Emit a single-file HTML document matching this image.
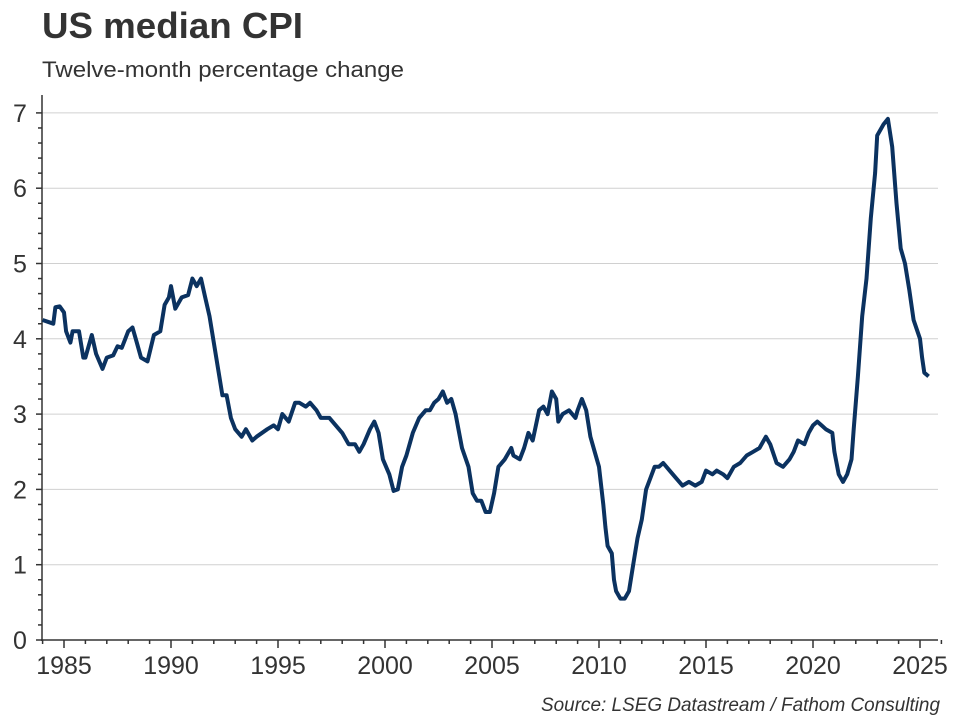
<!DOCTYPE html>
<html><head><style>
html,body{margin:0;padding:0;background:#fff;width:960px;height:720px;overflow:hidden}
</style></head><body>
<svg width="960" height="720" xmlns="http://www.w3.org/2000/svg" font-family="Liberation Sans, Arial, sans-serif">
<text x="42" y="38" font-size="36" font-weight="bold" fill="#333" textLength="261" lengthAdjust="spacingAndGlyphs">US median CPI</text>
<text x="42" y="77" font-size="22" fill="#333" textLength="362" lengthAdjust="spacingAndGlyphs">Twelve-month percentage change</text>
<g id="grid" stroke="#d0d0d0" stroke-width="1"></g>
<g id="ax" stroke="#333" stroke-width="1.5"></g>
<g id="lbl" font-size="25" fill="#333"></g>
<polyline id="ln" fill="none" stroke="#0b3260" stroke-width="4" stroke-linejoin="round"/>
<text x="940" y="711" font-size="19" font-style="italic" fill="#333" text-anchor="end" textLength="399" lengthAdjust="spacingAndGlyphs">Source: LSEG Datastream / Fathom Consulting</text>
</svg>
<script>
const X=y=>64+(y-1985)*21.4, Y=v=>640-v*75.3;
const ns="http://www.w3.org/2000/svg";
function el(p,t,a,txt){const e=document.createElementNS(ns,t);for(const k in a)e.setAttribute(k,a[k]);if(txt)e.textContent=txt;p.appendChild(e);return e;}
const g=document.getElementById('grid'),ax=document.getElementById('ax'),lb=document.getElementById('lbl');
for(let v=1;v<=7;v++)el(g,'line',{x1:42,x2:938,y1:Y(v),y2:Y(v)});
el(ax,'line',{x1:42,x2:42,y1:95,y2:641});
el(ax,'line',{x1:41,x2:938,y1:640,y2:640});
for(let v=0;v<=7.01;v+=0.2){const m=Math.abs(v-Math.round(v))<0.01;el(ax,'line',{x1:m?36:38,x2:42,y1:Y(v),y2:Y(v)});}
for(let v=0;v<=7;v++)el(lb,'text',{x:20,y:Y(v)+9,'text-anchor':'middle'},String(v));
for(let yr=1984;yr<=2026;yr++){const m=yr%5==0;el(ax,'line',{x1:X(yr),x2:X(yr),y1:640,y2:m?648:644});}
for(let yr=1985;yr<=2025;yr+=5)el(lb,'text',{x:X(yr),y:674,'text-anchor':'middle'},String(yr));
const d=[1984.0,4.25,1984.3,4.22,1984.5,4.2,1984.6,4.42,1984.8,4.43,1985.0,4.35,1985.1,4.1,1985.3,3.95,1985.4,4.1,1985.7,4.1,1985.9,3.75,1986.0,3.75,1986.3,4.05,1986.5,3.8,1986.8,3.6,1987.0,3.75,1987.3,3.78,1987.5,3.9,1987.7,3.88,1988.0,4.1,1988.2,4.15,1988.4,3.95,1988.6,3.75,1988.9,3.7,1989.2,4.05,1989.5,4.1,1989.7,4.45,1989.9,4.55,1990.0,4.7,1990.2,4.4,1990.5,4.55,1990.8,4.58,1991.0,4.8,1991.2,4.7,1991.4,4.8,1991.6,4.55,1991.8,4.3,1992.0,3.95,1992.2,3.6,1992.4,3.25,1992.6,3.25,1992.8,2.95,1993.0,2.8,1993.3,2.7,1993.5,2.8,1993.8,2.65,1994.0,2.7,1994.5,2.8,1994.8,2.85,1995.0,2.8,1995.2,3.0,1995.5,2.9,1995.8,3.15,1996.0,3.15,1996.3,3.1,1996.5,3.15,1996.8,3.05,1997.0,2.95,1997.4,2.95,1997.7,2.85,1998.0,2.75,1998.3,2.6,1998.6,2.6,1998.8,2.5,1999.0,2.6,1999.3,2.8,1999.5,2.9,1999.7,2.75,1999.9,2.4,2000.2,2.2,2000.4,1.98,2000.6,2.0,2000.8,2.3,2001.0,2.45,2001.3,2.75,2001.6,2.95,2001.9,3.05,2002.1,3.05,2002.3,3.15,2002.5,3.2,2002.7,3.3,2002.9,3.15,2003.1,3.2,2003.3,3.0,2003.6,2.55,2003.9,2.3,2004.1,1.95,2004.3,1.85,2004.5,1.85,2004.7,1.7,2004.9,1.7,2005.1,1.95,2005.3,2.3,2005.6,2.4,2005.9,2.55,2006.0,2.45,2006.3,2.4,2006.5,2.55,2006.7,2.75,2006.9,2.65,2007.2,3.05,2007.4,3.1,2007.6,3.0,2007.8,3.3,2008.0,3.2,2008.1,2.9,2008.3,3.0,2008.6,3.05,2008.9,2.95,2009.0,3.05,2009.2,3.2,2009.4,3.05,2009.6,2.7,2009.8,2.5,2010.0,2.3,2010.2,1.8,2010.3,1.5,2010.4,1.25,2010.6,1.15,2010.7,0.8,2010.8,0.65,2011.0,0.55,2011.2,0.55,2011.4,0.65,2011.6,1.0,2011.8,1.35,2012.0,1.6,2012.2,2.0,2012.4,2.15,2012.6,2.3,2012.8,2.3,2013.0,2.35,2013.3,2.25,2013.6,2.15,2013.9,2.05,2014.2,2.1,2014.5,2.05,2014.8,2.1,2015.0,2.25,2015.3,2.2,2015.5,2.25,2015.8,2.2,2016.0,2.15,2016.3,2.3,2016.6,2.35,2016.9,2.45,2017.2,2.5,2017.5,2.55,2017.8,2.7,2018.0,2.6,2018.3,2.35,2018.6,2.3,2018.9,2.4,2019.1,2.5,2019.3,2.65,2019.6,2.6,2019.8,2.75,2020.0,2.85,2020.2,2.9,2020.4,2.85,2020.6,2.8,2020.9,2.75,2021.0,2.5,2021.2,2.2,2021.4,2.1,2021.6,2.2,2021.8,2.4,2021.9,2.8,2022.1,3.5,2022.3,4.3,2022.5,4.8,2022.7,5.6,2022.9,6.2,2023.0,6.7,2023.3,6.85,2023.5,6.92,2023.7,6.55,2023.9,5.8,2024.1,5.2,2024.3,5.0,2024.5,4.65,2024.7,4.25,2025.0,4.0,2025.1,3.75,2025.2,3.55,2025.4,3.5];
let pts=[];for(let i=0;i<d.length;i+=2)pts.push(X(d[i]).toFixed(1)+','+Y(d[i+1]).toFixed(1));
document.getElementById('ln').setAttribute('points',pts.join(' '));
</script>
</body></html>
